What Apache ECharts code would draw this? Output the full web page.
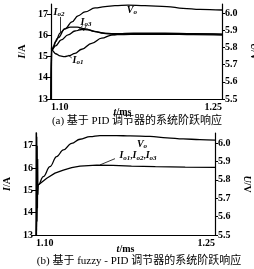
<!DOCTYPE html>
<html>
<head>
<meta charset="utf-8">
<script src="https://cdn.jsdelivr.net/npm/echarts@6/dist/echarts.min.js"></script>
<style>
html, body { margin: 0; padding: 0; background: #fff; }
#main { width: 254px; height: 269px; }
</style>
</head>
<body>
<div id="main"></div>
<script>
// axis ticks
var tTicks = [1.10, 1.25];
var iTicks = [13, 14, 15, 16, 17];
var uTicks = [5.5, 5.6, 5.7, 5.8, 5.9, 6.0];

// (a) PID : [t/ms, value]
var ioA1 = [[1.1, 12.5], [1.1004, 15.45], [1.1008, 15.3], [1.104, 15.13], [1.108, 15.03], [1.112, 14.99], [1.116, 15.04], [1.121, 15.15], [1.127, 15.34], [1.1357, 15.62], [1.1445, 15.86], [1.1532, 16.01], [1.165, 16.09], [1.18, 16.1], [1.2, 16.1], [1.225, 16.07], [1.25, 16.05]];
var ioA2 = [[1.1, 12.5], [1.1006, 15.5], [1.101, 15.3], [1.104, 15.7], [1.108, 16.1], [1.112, 16.3], [1.117, 16.38], [1.123, 16.38], [1.13, 16.3], [1.138, 16.18], [1.146, 16.1], [1.155, 16.07], [1.17, 16.08], [1.2, 16.08], [1.225, 16.06], [1.25, 16.04]];
var ioA3 = [[1.1, 12.5], [1.1002, 15.4], [1.1006, 15.3], [1.104, 15.5], [1.109, 15.78], [1.115, 16.02], [1.121, 16.2], [1.127, 16.27], [1.133, 16.25], [1.14, 16.16], [1.148, 16.08], [1.158, 16.03], [1.17, 16.04], [1.2, 16.05], [1.225, 16.03], [1.25, 16.01]];
var voA = [[1.1, 5.4], [1.1006, 5.785], [1.1061, 5.855], [1.1123, 5.907], [1.1184, 5.948], [1.1237, 5.983], [1.1298, 6.006], [1.1386, 6.029], [1.1474, 6.037], [1.1561, 6.042], [1.1675, 6.045], [1.1824, 6.042], [1.2017, 6.037], [1.2158, 6.027], [1.2307, 6.021], [1.25, 6.017]];

// (b) fuzzy-PID
var ioB = [[1.1, 12.8], [1.1002, 17.6], [1.1004, 13.2], [1.1006, 17.4], [1.1008, 13.6], [1.101, 17.0], [1.1012, 14.2], [1.1014, 16.4], [1.1016, 14.8], [1.1019, 15.24], [1.109, 15.54], [1.1159, 15.77], [1.1229, 15.91], [1.1299, 16.02], [1.1369, 16.09], [1.1509, 16.13], [1.1645, 16.12], [1.18, 16.09], [1.2, 16.06], [1.225, 16.04], [1.25, 16.03]];
var voB = [[1.1, 5.45], [1.1019, 5.772], [1.1061, 5.817], [1.1117, 5.871], [1.1173, 5.926], [1.1229, 5.962], [1.1299, 5.998], [1.1369, 6.02], [1.1453, 6.034], [1.1536, 6.04], [1.1676, 6.04], [1.1788, 6.038], [1.1955, 6.036], [1.2098, 6.028], [1.2232, 6.022], [1.2374, 6.018], [1.25, 6.015]];

var serif = '"Liberation Serif", "DejaVu Serif", serif';
var black = '#000';

var richName = {
    i: { fontFamily: serif, fontStyle: 'italic', fontWeight: 'bold', fontSize: 10, color: black },
    n: { fontFamily: serif, fontWeight: 'bold', fontSize: 10, color: black }
};
var richCurve = {
    i: { fontFamily: serif, fontStyle: 'italic', fontWeight: 'bold', fontSize: 10, color: black },
    s: { fontFamily: serif, fontStyle: 'italic', fontWeight: 'bold', fontSize: 7, color: black, verticalAlign: 'bottom', padding: [4, 0, 0, 0] },
    c: { fontFamily: serif, fontWeight: 'bold', fontSize: 9, color: black }
};

function tickLabel() {
    return { color: black, fontFamily: serif, fontWeight: 'bold', fontSize: 10 };
}

function xAxisFor(g, gap, shift) {
    return {
        type: 'value', gridIndex: g, min: tTicks[0], max: tTicks[1],
        axisLine: { lineStyle: { color: black, width: 1.2 } },
        axisTick: { show: false },
        splitLine: { show: false },
        axisLabel: Object.assign(tickLabel(), {
            customValues: tTicks, margin: 3,
            alignMinLabel: 'left', alignMaxLabel: 'right',
            formatter: function (v) { return v.toFixed(2); }
        }),
        name: '{i|t}{n|/ms}', nameLocation: 'middle', nameGap: gap, nameMoveOverlap: false,
        nameTextStyle: { rich: richName, padding: [0, shift, 0, 0] }
    };
}

function iAxisFor(g, max, gap) {
    return {
        type: 'value', gridIndex: g, position: 'left', min: iTicks[0], max: max,
        axisLine: { show: true, lineStyle: { color: black, width: 1.2 } },
        axisTick: { show: true, customValues: iTicks, length: 4, lineStyle: { color: black } },
        splitLine: { show: false },
        axisLabel: Object.assign(tickLabel(), { customValues: iTicks, margin: 3 }),
        name: '{i|I}{n|/A}', nameLocation: 'middle', nameGap: gap,
        nameTextStyle: { rich: richName }
    };
}

function uAxisFor(g, max, gap) {
    return {
        type: 'value', gridIndex: g, position: 'right', min: uTicks[0], max: max,
        axisLine: { show: true, lineStyle: { color: black, width: 1.2 } },
        axisTick: { show: true, customValues: uTicks, length: 3, lineStyle: { color: black } },
        splitLine: { show: false },
        axisLabel: Object.assign(tickLabel(), {
            customValues: uTicks, margin: 3,
            formatter: function (v) { return v.toFixed(1); }
        }),
        name: '{i|U}{n|/V}', nameLocation: 'middle', nameGap: gap, nameRotate: -90,
        nameTextStyle: { rich: richName }
    };
}

function curve(data, xi, yi, extra) {
    return Object.assign({
        type: 'line', xAxisIndex: xi, yAxisIndex: yi, data: data,
        showSymbol: false, smooth: 0.4, smoothMonotone: 'x', silent: true,
        lineStyle: { color: black, width: 1.3 }
    }, extra || {});
}

function tag(coord, text) {
    return {
        coord: coord, symbolSize: 1, itemStyle: { color: 'rgba(0,0,0,0)' },
        label: { show: true, position: 'inside', formatter: text, rich: richCurve }
    };
}

function pointer(from, to) {
    return [{ coord: from }, { coord: to }];
}

var pointerStyle = { symbol: ['none', 'none'], silent: true, label: { show: false }, lineStyle: { color: black, width: 0.8, type: 'solid' } };

var myChart = echarts.init(document.getElementById('main'), null, { renderer: 'canvas' });

var option = {
    animation: false,
    backgroundColor: '#fff',
    grid: [
        { left: 51, top: 4, width: 171, height: 95, outerBoundsMode: 'none' },
        { left: 36, top: 133, width: 179, height: 102, outerBoundsMode: 'none' }
    ],
    xAxis: [xAxisFor(0, 8, 28), xAxisFor(1, 9, 0)],
    yAxis: [iAxisFor(0, 17.47, 22), uAxisFor(0, 6.052, 23), iAxisFor(1, 17.57, 24), uAxisFor(1, 6.054, 27)],
    series: [
        curve(ioA1, 0, 0, {
            markPoint: { data: [tag([1.1237, 14.79], '{i|I}{s|o1}')] },
            markLine: Object.assign({ data: [pointer([1.1182, 14.93], [1.1152, 15.06])] }, pointerStyle)
        }),
        curve(ioA2, 0, 0, {
            markPoint: { data: [tag([1.107, 17.05], '{i|I}{s|o2}')] },
            markLine: Object.assign({ data: [pointer([1.1079, 16.86], [1.1079, 16.12])] }, pointerStyle)
        }),
        curve(ioA3, 0, 0, {
            markPoint: { data: [tag([1.1307, 16.6], '{i|I}{s|o3}')] },
            markLine: Object.assign({ data: [pointer([1.128, 16.46], [1.1235, 16.22]), pointer([1.131, 16.46], [1.1285, 16.2])] }, pointerStyle)
        }),
        curve(voA, 0, 1, {
            markPoint: { data: [tag([1.171, 6.012], '{i|V}{s|o}')] }
        }),
        curve(ioB, 1, 2, {
            smooth: false,
            markPoint: { data: [tag([1.1855, 16.52], '{i|I}{s|o1}{c|,}{i|I}{s|o2}{c|,}{i|I}{s|o3}')] },
            markLine: Object.assign({ data: [pointer([1.1536, 16.14], [1.1662, 16.42])] }, pointerStyle)
        }),
        curve(voB, 1, 3, {
            markPoint: { data: [tag([1.1888, 5.989], '{i|V}{s|o}')] }
        })
    ],
    graphic: [
        { type: 'text', x: 137, y: 121, style: { text: '(a) 基于 PID 调节器的系统阶跃响应', align: 'center', verticalAlign: 'middle', font: '11px "Liberation Serif", "Noto Sans CJK SC"', fill: black } },
        { type: 'text', x: 139, y: 261, style: { text: '(b) 基于 fuzzy - PID 调节器的系统阶跃响应', align: 'center', verticalAlign: 'middle', font: '11px "Liberation Serif", "Noto Sans CJK SC"', fill: black } }
    ]
};

if (option && typeof option === 'object') {
    myChart.setOption(option);
}

window.addEventListener('resize', myChart.resize);
</script>
</body>
</html>
